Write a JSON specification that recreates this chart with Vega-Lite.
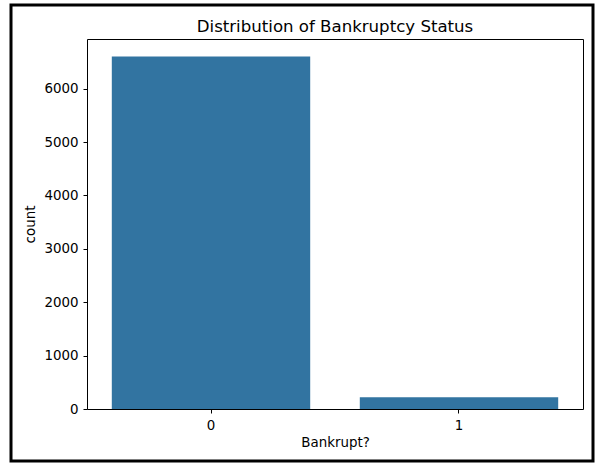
{
  "$schema": "https://vega.github.io/schema/vega-lite/v6.json",
  "autosize": "none",
  "width": 582,
  "height": 456,
  "padding": {"left": 11, "top": 5, "right": 7, "bottom": 9},
  "background": "white",
  "config": {
    "font": "DejaVu Sans",
    "view": {"stroke": "black", "strokeWidth": 3},
    "axis": {
      "labelFont": "DejaVu Sans",
      "titleFont": "DejaVu Sans",
      "labelFontSize": 13.4,
      "titleFontSize": 13.4,
      "titleFontWeight": "normal",
      "labelColor": "black",
      "titleColor": "black",
      "domainColor": "black",
      "domainWidth": 1,
      "tickColor": "black",
      "tickWidth": 1,
      "tickSize": 4,
      "grid": false
    }
  },
  "title": {
    "text": "Distribution of Bankruptcy Status",
    "font": "DejaVu Sans",
    "fontSize": 16.6,
    "fontWeight": "normal",
    "color": "black",
    "anchor": "middle",
    "baseline": "alphabetic",
    "dx": 33,
    "dy": 17,
    "offset": -27
  },
  "data": {
    "values": [
      {"Bankrupt": "0", "count": 6599},
      {"Bankrupt": "1", "count": 220}
    ]
  },
  "layer": [
    {
      "mark": {"type": "bar", "color": "#3274a1"},
      "encoding": {
        "x": {
          "field": "Bankrupt",
          "type": "ordinal",
          "title": "Bankrupt?",
          "scale": {"range": [76, 572], "paddingInner": 0.2, "paddingOuter": 0.1},
          "axis": {"orient": "bottom", "offset": -52, "labelAngle": 0, "labelPadding": 5, "titlePadding": 4}
        },
        "y": {
          "field": "count",
          "type": "quantitative",
          "title": "count",
          "scale": {"domain": [0, 6929], "range": [404, 34], "nice": false},
          "axis": {"orient": "left", "offset": -76, "values": [0, 1000, 2000, 3000, 4000, 5000, 6000], "format": "d", "labelPadding": 5, "titlePadding": 6}
        }
      }
    },
    {
      "mark": {"type": "bar", "opacity": 0},
      "encoding": {
        "x": {
          "field": "Bankrupt",
          "type": "ordinal",
          "axis": {"orient": "top", "offset": -34, "labels": false, "ticks": false, "title": null}
        },
        "y": {
          "field": "count",
          "type": "quantitative",
          "axis": {"orient": "right", "offset": -10, "labels": false, "ticks": false, "title": null}
        }
      }
    }
  ],
  "resolve": {"axis": {"x": "independent", "y": "independent"}}
}
